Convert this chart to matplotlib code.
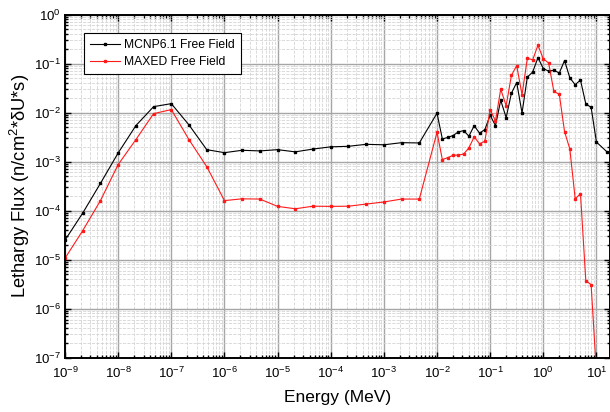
import numpy as np
import matplotlib
matplotlib.use("Agg")
import matplotlib.pyplot as plt
from matplotlib.ticker import LogLocator, NullFormatter, LogFormatterSciNotation

plt.rcParams['font.family'] = ['Liberation Sans', 'DejaVu Sans']
plt.rcParams['mathtext.fontset'] = 'custom'
plt.rcParams['mathtext.rm'] = 'Liberation Sans'
plt.rcParams['mathtext.it'] = 'Liberation Sans:italic'
plt.rcParams['mathtext.bf'] = 'Liberation Sans:bold'

# === DATA ===
energy = [1e-9, 2.15e-9, 4.64e-9, 1e-8, 2.15e-8, 4.64e-8, 1e-7, 2.15e-7, 4.64e-7,
          1e-6, 2.15e-6, 4.64e-6, 1e-5, 2.15e-5, 4.64e-5, 1e-4, 2.15e-4, 4.64e-4,
          1e-3, 2.15e-3, 4.64e-3,
          0.01, 0.0126, 0.0158, 0.02, 0.0251, 0.0316, 0.0398, 0.0501, 0.0631, 0.0794,
          0.1, 0.126, 0.158, 0.2, 0.251, 0.316, 0.398, 0.501, 0.631, 0.794,
          1.0, 1.26, 1.58, 2.0, 2.51, 3.16, 3.98, 5.01, 6.31, 7.94,
          10.0, 15.8]

mcnp_flux = [2.5e-5, 8.9e-5, 3.6e-4, 1.5e-3, 5.4e-3, 1.32e-2, 1.52e-2, 5.6e-3, 1.75e-3,
             1.52e-3, 1.7e-3, 1.65e-3, 1.75e-3, 1.58e-3, 1.8e-3, 2.0e-3, 2.05e-3, 2.25e-3,
             2.2e-3, 2.43e-3, 2.4e-3,
             9.7e-3, 2.9e-3, 3.1e-3, 3.4e-3, 4.0e-3, 4.3e-3, 3.3e-3, 5.4e-3, 3.8e-3, 4.5e-3,
             8.8e-3, 5.4e-3, 1.78e-2, 7.9e-3, 2.47e-2, 4.1e-2, 9.8e-3, 5.3e-2, 6.7e-2, 0.132,
             7.9e-2, 7.0e-2, 7.3e-2, 6.4e-2, 0.115, 5.1e-2, 3.7e-2, 4.6e-2, 1.5e-2, 1.28e-2,
             2.5e-3, 1.58e-3]

maxed_flux = [1.07e-5, 3.9e-5, 1.6e-4, 8.7e-4, 2.8e-3, 9.5e-3, 1.15e-2, 2.8e-3, 7.9e-4,
              1.6e-4, 1.74e-4, 1.72e-4, 1.22e-4, 1.09e-4, 1.23e-4, 1.22e-4, 1.23e-4, 1.36e-4,
              1.5e-4, 1.72e-4, 1.72e-4,
              3.95e-3, 1.1e-3, 1.2e-3, 1.34e-3, 1.36e-3, 1.42e-3, 1.9e-3, 3.2e-3, 2.3e-3, 2.6e-3,
              1.15e-2, 6.7e-3, 3.0e-2, 1.38e-2, 5.7e-2, 9.1e-2, 2.3e-2, 0.128, 0.119, 0.236,
              0.124, 0.103, 2.7e-2, 2.36e-2, 4.1e-3, 1.8e-3, 1.75e-4, 2.2e-4, 3.7e-6, 3.1e-6,
              5e-8]

x_ticks = [1e-9, 1e-8, 1e-7, 1e-6, 1e-5, 1e-4, 1e-3, 1e-2, 1e-1, 1e0, 1e1]
y_ticks = [1e-7, 1e-6, 1e-5, 1e-4, 1e-3, 1e-2, 1e-1, 1e0]

# === PLOT ===
fig = plt.figure(figsize=(6.10, 4.12), dpi=100)
ax = fig.add_axes([0.1066, 0.1318, 0.8934, 0.833])

ax.plot(energy, mcnp_flux, color='black', lw=0.8, marker='s', ms=1.7,
        label='MCNP6.1 Free Field')
ax.plot(energy[:len(maxed_flux)], maxed_flux, color='#ff1a1a', lw=0.8, marker='s', ms=1.7,
        label='MAXED Free Field')

ax.set_xscale('log')
ax.set_yscale('log')
ax.set_xlim(1e-9, 18)
ax.set_ylim(1e-7, 1)

ax.set_xticks(x_ticks)
ax.set_yticks(y_ticks)
ax.xaxis.set_major_formatter(LogFormatterSciNotation())
ax.yaxis.set_major_formatter(LogFormatterSciNotation())
ax.xaxis.set_minor_locator(LogLocator(base=10, subs=np.arange(2, 10), numticks=300))
ax.yaxis.set_minor_locator(LogLocator(base=10, subs=np.arange(2, 10), numticks=300))
ax.xaxis.set_minor_formatter(NullFormatter())
ax.yaxis.set_minor_formatter(NullFormatter())

ax.grid(which='major', color='#a6a6a6', lw=1.0, ls='-')
ax.grid(which='minor', color='#d4d4d4', lw=0.6, ls='--')
ax.set_axisbelow(True)

ax.tick_params(which='both', direction='in', top=True, right=True, width=1.0,
               labelsize=9.5, color='black')
ax.tick_params(which='major', length=4)
ax.tick_params(which='minor', length=2.5)
ax.tick_params(axis='x', pad=6)
ax.tick_params(axis='y', pad=3)
for s in ax.spines.values():
    s.set_linewidth(1.4)

ax.set_xlabel('Energy (MeV)', fontsize=12.5, labelpad=6)
ax.set_ylabel(r'Lethargy Flux (n/cm$^2$*δU*s)', fontsize=13.2, labelpad=1)

leg = ax.legend(loc='upper left', bbox_to_anchor=(0.035, 0.946), borderaxespad=0,
                fontsize=8.7, frameon=True, fancybox=False, framealpha=1,
                edgecolor='black', handlelength=2.5, handletextpad=0.3,
                labelspacing=0.4, borderpad=0.5)
leg.get_frame().set_linewidth(0.8)

fig.savefig('out.png', dpi=100)
